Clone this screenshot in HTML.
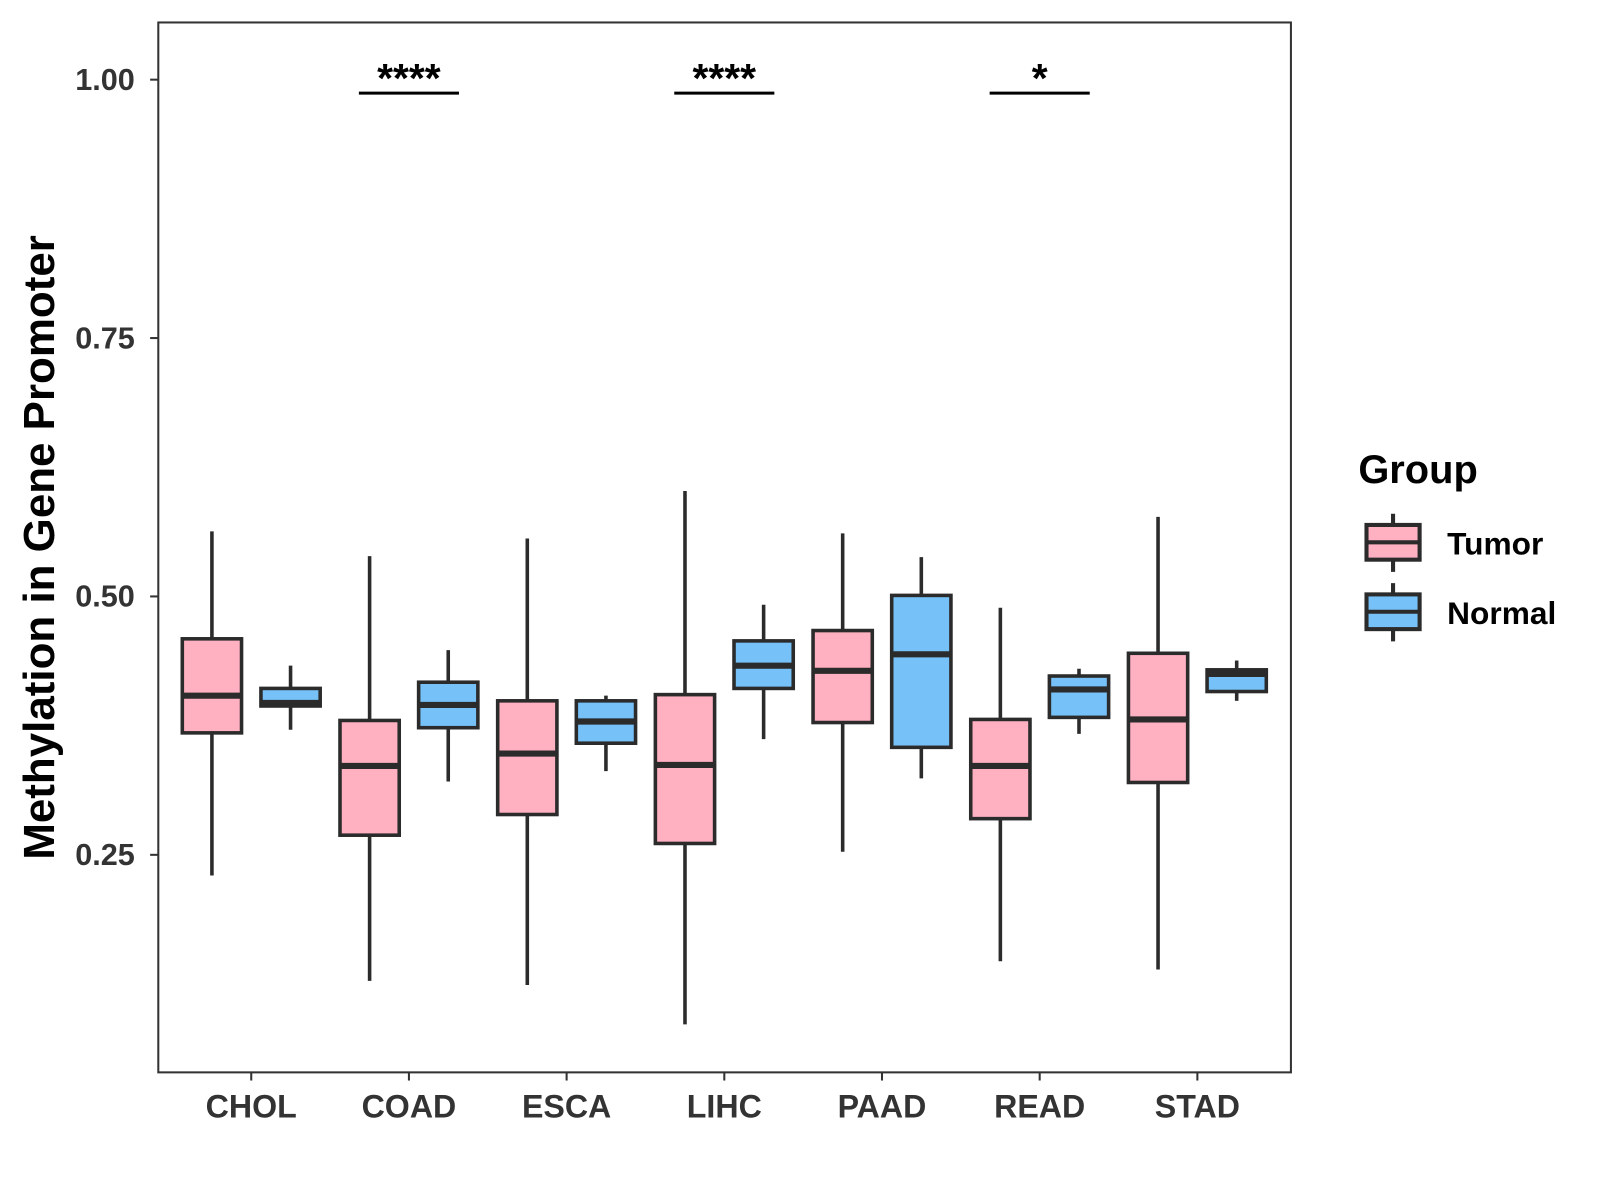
<!DOCTYPE html>
<html><head><meta charset="utf-8"><style>body{margin:0;background:#fff}svg{display:block}text{font-family:"Liberation Sans",Arial,sans-serif;font-weight:bold}</style></head>
<body>
<svg id="chart" width="1600" height="1200" viewBox="0 0 1600 1200">
<g transform="scale(1.0213)">
<rect x="155" y="22" width="1109" height="1028" fill="#fff" stroke="#333" stroke-width="2"/>
<g id="marks"></g>
<text transform="translate(53,536) rotate(-90)" text-anchor="middle" font-size="43" fill="#000">Methylation in Gene Promoter</text>
<g>
<text x="1330" y="473" font-size="39" fill="#000">Group</text>
<g>
<line x1="1364" y1="503" x2="1364" y2="560" stroke="#2b2b2b" stroke-width="4"/>
<rect x="1338" y="514" width="52" height="34" fill="#FFB0C1" stroke="#2b2b2b" stroke-width="4"/>
<line x1="1338" y1="531" x2="1390" y2="531" stroke="#2b2b2b" stroke-width="4"/>
<text x="1417" y="543" font-size="31" fill="#000">Tumor</text></g>
<g>
<line x1="1364" y1="571" x2="1364" y2="628" stroke="#2b2b2b" stroke-width="4"/>
<rect x="1338" y="582" width="52" height="34" fill="#76C1F8" stroke="#2b2b2b" stroke-width="4"/>
<line x1="1338" y1="599" x2="1390" y2="599" stroke="#2b2b2b" stroke-width="4"/>
<text x="1417" y="611" font-size="31" fill="#000">Normal</text></g>
</g>
</g>
</svg>
<script>
const categories=["CHOL","COAD","ESCA","LIHC","PAAD","READ","STAD"];
// [min,q1,median,q3,max]
const tumor=[[0.230,0.368,0.404,0.459,0.563],[0.128,0.269,0.336,0.380,0.539],[0.124,0.289,0.348,0.399,0.556],[0.086,0.261,0.337,0.405,0.602],[0.253,0.378,0.428,0.467,0.561],[0.147,0.285,0.336,0.381,0.489],[0.139,0.320,0.381,0.445,0.577]];
const normal=[[0.371,0.394,0.397,0.411,0.433],[0.321,0.373,0.395,0.417,0.448],[0.331,0.358,0.379,0.399,0.404],[0.362,0.411,0.433,0.457,0.492],[0.324,0.354,0.444,0.501,0.538],[0.367,0.383,0.410,0.423,0.430],[0.399,0.408,0.425,0.429,0.438]];
const yTicks=[0.25,0.50,0.75,1.00];
const yTickLabels=["0.25","0.50","0.75","1.00"];
const sigCats=["COAD","LIHC","READ"];
const sigLabels=["****","****","*"];
const sigY=0.987;
const NS="http://www.w3.org/2000/svg";
const g=document.getElementById('marks');
const y=v=>78+(1-v)*1012;
const x=i=>246+i*154.4;
function el(t,a,p){const e=document.createElementNS(NS,t);for(const k in a)e.setAttribute(k,a[k]);(p||g).appendChild(e);return e;}
yTicks.forEach((v,i)=>{
 const t=el('line',{x1:147,x2:155,y1:y(v),y2:y(v),stroke:'#333','stroke-width':2});
 
 
 const l=el('text',{x:132,y:y(v)+10,'text-anchor':'end','font-size':30,fill:'#333'});
 l.textContent=yTickLabels[i];
 
 
});
categories.forEach((c,i)=>{
 const t=el('line',{x1:x(i),x2:x(i),y1:1050,y2:1058,stroke:'#333','stroke-width':2});
 
 
 const l=el('text',{x:x(i),y:1094,'text-anchor':'middle','font-size':31.5,fill:'#333'});
 l.textContent=c;
 
 
});
function box(cx,d,fill,name){
 const b=el('g',{});
 
 
 const w=58;
 el('line',{x1:cx,x2:cx,y1:y(d[4]),y2:y(d[0]),stroke:'#2b2b2b','stroke-width':3.5},b);
 el('rect',{x:cx-w/2,y:y(d[3]),width:w,height:y(d[1])-y(d[3]),fill:fill,stroke:'#2b2b2b','stroke-width':3.5},b);
 el('line',{x1:cx-w/2,x2:cx+w/2,y1:y(d[2]),y2:y(d[2]),stroke:'#2b2b2b','stroke-width':6},b);
}
categories.forEach((c,i)=>{
 box(x(i)-38.5,tumor[i],'#FFB0C1','box-tumor-'+c.toLowerCase());
 box(x(i)+38.5,normal[i],'#76C1F8','box-normal-'+c.toLowerCase());
});
sigCats.forEach((c,k)=>{
 const i=categories.indexOf(c);
 const l=el('line',{x1:x(i)-49,x2:x(i)+49,y1:y(sigY),y2:y(sigY),stroke:'#000','stroke-width':3});
 
 
 const t=el('text',{x:x(i),y:y(sigY)-1,'text-anchor':'middle','font-size':40,fill:'#000'});
 t.textContent=sigLabels[k];
 
 
});
</script>
</body></html>
